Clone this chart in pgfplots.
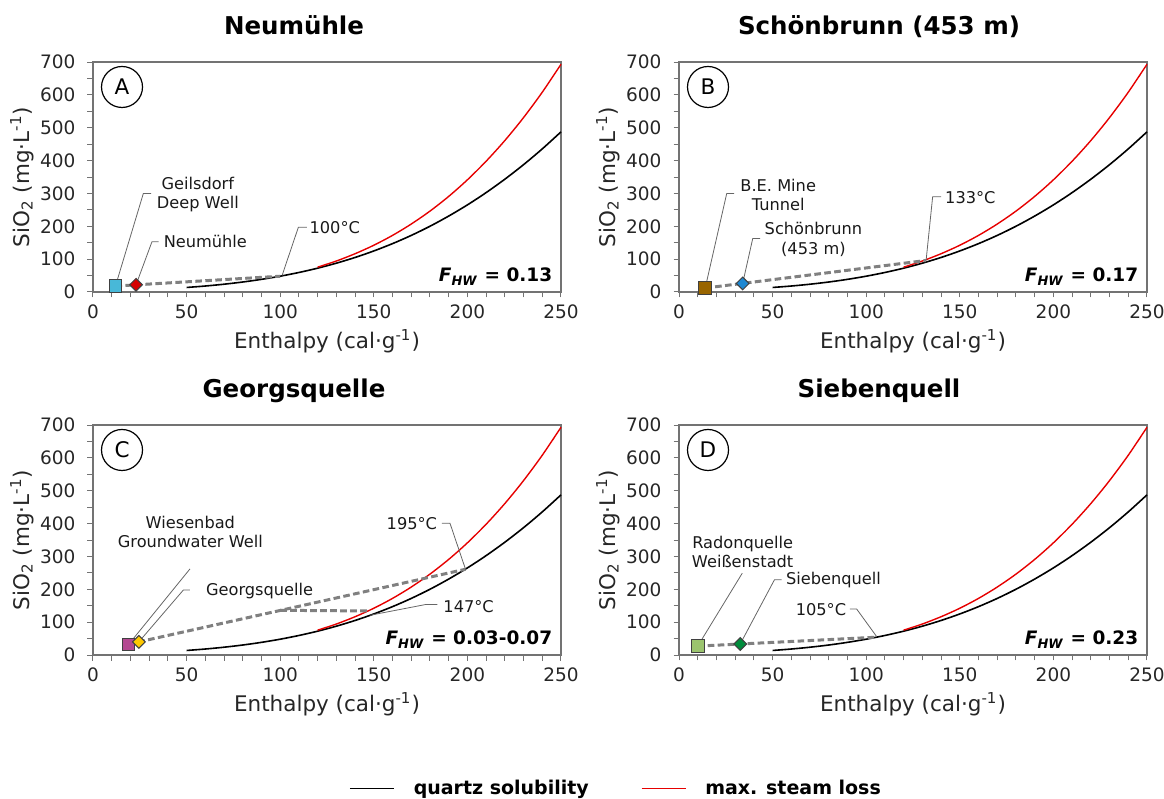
\documentclass[border=0pt]{standalone}
\usepackage{pgfplots}
\pgfplotsset{compat=1.18}
\usepackage{pgfplotstable}
\usepackage{fontspec}
\setmainfont{DejaVu Sans}
\definecolor{dashgray}{RGB}{128,128,128}
\definecolor{steamred}{RGB}{230,0,0}
\definecolor{sqA}{RGB}{72,184,216}
\definecolor{dmA}{RGB}{214,0,0}
\definecolor{sqB}{RGB}{153,101,0}
\definecolor{dmB}{RGB}{30,136,210}
\definecolor{sqC}{RGB}{180,72,145}
\definecolor{dmC}{RGB}{255,200,0}
\definecolor{sqD}{RGB}{155,196,110}
\definecolor{dmD}{RGB}{0,140,60}

\pgfplotstableread{
h s
50 13.8
60 18.2
70 23.7
80 30.4
90 38.5
100 48.1
110 59.4
120 72.5
130 87.7
140 105.1
150 124.9
160 147.2
170 172.2
180 200.1
190 231.1
200 265.1
210 302.5
220 343.3
230 387.6
240 435.6
250 487.4
}\quartz
\pgfplotstableread{
h s
120 75.6
130 94.3
140 116.5
150 142.3
160 172.3
170 206.8
180 246.2
190 290.9
200 341.4
210 398.0
220 461.0
230 530.9
240 608.1
250 693.0
}\steam

\pgfplotsset{
 panel/.style={
  scale only axis, width=234pt, height=115pt,
  xmin=0, xmax=250, ymin=0, ymax=700,
  xtick={0,50,...,250}, ytick={0,100,...,700},
  minor x tick num=4, minor y tick num=1,
  tick align=outside, tick pos=left,
  axis line style={black!55, line width=0.6pt},
  every tick/.style={black!55, line width=0.5pt},
  major tick length=2.75pt, minor tick length=2.75pt,
  tick label style={font=\fontsize{9.25}{11}\selectfont, text=black!85},
  yticklabel style={xshift=-2.5pt},
  /pgf/number format/assume math mode=true,
  xlabel={Enthalpy (cal·g\textsuperscript{-1})},
  ylabel={SiO\textsubscript{2} (mg·L\textsuperscript{-1})},
  label style={font=\fontsize{10.75}{12}\selectfont, text=black!85},
  xlabel style={at={(axis description cs:0.5,-0.213)}, anchor=center},
  ylabel style={at={(axis description cs:-0.152,0.5)}, anchor=center},
  clip=false,
 },
 quartzline/.style={black, line width=0.8pt, smooth},
 steamline/.style={steamred, line width=0.7pt, smooth},
 mixline/.style={dashgray, line width=1.5pt, dash pattern=on 3.3pt off 1.7pt, forget plot},
 sqmark/.style={only marks, mark=square*, mark size=3.2pt, mark options={fill=#1, draw=black!75, line width=0.5pt, solid}, forget plot},
 dmmark/.style={only marks, mark=square*, mark size=2.25pt, mark options={fill=#1, draw=black!75, line width=0.5pt, rotate=45, solid}, forget plot},
}
\tikzset{
 leader/.style={black!60, line width=0.4pt},
 note/.style={font=\fontsize{8.1}{9.7}\selectfont, text=black!90, inner sep=0pt},
 fhw/.style={font=\bfseries\fontsize{9.25}{11}\selectfont, anchor=base east, inner sep=0pt},
 letter/.style={circle, draw=black, line width=0.6pt, minimum size=20.5pt, inner sep=0pt, font=\fontsize{10.75}{11}\selectfont},
 ptitle/.style={font=\bfseries\fontsize{12.25}{14}\selectfont, anchor=base},
}

\begin{document}
\begin{tikzpicture}
\path[use as bounding box] (0,0) rectangle (582pt,399.5pt);

% ---------- A ----------
\begin{axis}[panel, at={(46.5pt,253.5pt)}, anchor=south west]
\addplot[quartzline] table[x=h,y=s]{\quartz};
\addplot[steamline] table[x=h,y=s]{\steam};
\addplot[mixline] coordinates {(12,18) (100,48)};
\addplot[sqmark=sqA] coordinates {(12,18)};
\addplot[dmmark=dmA] coordinates {(23,22)};
\draw[leader] (axis cs:12,18) -- (axis cs:26.9,300) -- (axis cs:31,300);
\node[note, align=center] at (axis cs:56,296) {Geilsdorf\\Deep Well};
\draw[leader] (axis cs:23,22) -- (axis cs:31.5,153) -- (axis cs:35,153);
\node[note, anchor=west] at (axis cs:37.6,153) {Neumühle};
\draw[leader] (axis cs:101,50) -- (axis cs:109.7,197) -- (axis cs:114.2,197);
\node[note, anchor=west] at (axis cs:115.5,197) {100°C};
\node[fhw] at (axis cs:245.5,31) {\textit{F}\textsubscript{\textit{HW}} = 0.13};
\node[letter] at (axis cs:15.5,624) {A};
\end{axis}

% ---------- B ----------
\begin{axis}[panel, at={(339.5pt,253.5pt)}, anchor=south west]
\addplot[quartzline] table[x=h,y=s]{\quartz};
\addplot[steamline] table[x=h,y=s]{\steam};
\addplot[mixline] coordinates {(14,12) (132,96)};
\addplot[sqmark=sqB] coordinates {(14,12)};
\addplot[dmmark=dmB] coordinates {(34,26)};
\draw[leader] (axis cs:14,12) -- (axis cs:25.5,300) -- (axis cs:29.4,300);
\node[note, align=center] at (axis cs:53,296) {B.E. Mine\\Tunnel};
\draw[leader] (axis cs:34,26) -- (axis cs:39.4,163) -- (axis cs:43.3,163);
\node[note, align=center] at (axis cs:71.8,159.5) {Schönbrunn\\(453 m)};
\draw[leader] (axis cs:132,96) -- (axis cs:135.5,290) -- (axis cs:140,290);
\node[note, anchor=west] at (axis cs:142,287) {133°C};
\node[fhw] at (axis cs:245.5,31) {\textit{F}\textsubscript{\textit{HW}} = 0.17};
\node[letter] at (axis cs:15.5,624) {B};
\end{axis}

% ---------- C ----------
\begin{axis}[panel, at={(46.5pt,72pt)}, anchor=south west,
  legend style={at={(1.1197,-0.580)}, anchor=center, draw=none, fill=none,
    legend columns=2, font=\bfseries\fontsize{9.5}{11}\selectfont,
    /tikz/every odd column/.append style={column sep=7.5pt},
    /tikz/every even column/.append style={column sep=24pt}},
  legend image code/.code={\draw[#1] plot coordinates {(0pt,0pt) (22pt,0pt)};},
]
\addplot[quartzline] table[x=h,y=s]{\quartz};
\addlegendentry{quartz solubility}
\addplot[steamline] table[x=h,y=s]{\steam};
\addlegendentry{max. steam loss}
\addplot[mixline] coordinates {(19,33) (199,261)};
\addplot[mixline] coordinates {(100,136) (147,134)};
\addplot[sqmark=sqC] coordinates {(19,32)};
\addplot[dmmark=dmC] coordinates {(24.5,40)};
\draw[leader] (axis cs:19,32) -- (axis cs:51.8,262);
\node[note, align=center] at (axis cs:52,374) {Wiesenbad\\Groundwater Well};
\draw[leader] (axis cs:24.5,40) -- (axis cs:48.3,198) -- (axis cs:51.8,198);
\node[note, anchor=west] at (axis cs:60.2,196) {Georgsquelle};
\draw[leader] (axis cs:199,261) -- (axis cs:190.7,401) -- (axis cs:186.3,401);
\node[note, anchor=east] at (axis cs:184,399) {195°C};
\draw[leader] (axis cs:148,121) -- (axis cs:178,154) -- (axis cs:184,154);
\node[note, anchor=west] at (axis cs:187,148) {147°C};
\node[fhw] at (axis cs:245.5,31) {\textit{F}\textsubscript{\textit{HW}} = 0.03-0.07};
\node[letter] at (axis cs:15.5,624) {C};
\end{axis}

% ---------- D ----------
\begin{axis}[panel, at={(339.5pt,72pt)}, anchor=south west]
\addplot[quartzline] table[x=h,y=s]{\quartz};
\addplot[steamline] table[x=h,y=s]{\steam};
\addplot[mixline] coordinates {(10,27) (105,54)};
\addplot[sqmark=sqD] coordinates {(10,27)};
\addplot[dmmark=dmD] coordinates {(32.7,33.5)};
\draw[leader] (axis cs:10,27) -- (axis cs:33.8,249);
\node[note, align=center] at (axis cs:34,314) {Radonquelle\\Weißenstadt};
\draw[leader] (axis cs:32.7,33.5) -- (axis cs:51,229) -- (axis cs:54.8,229);
\node[note, anchor=west] at (axis cs:57,227) {Siebenquell};
\draw[leader] (axis cs:105.6,56) -- (axis cs:94.9,140) -- (axis cs:91.3,140);
\node[note, anchor=east] at (axis cs:89.5,137.5) {105°C};
\node[fhw] at (axis cs:245.5,31) {\textit{F}\textsubscript{\textit{HW}} = 0.23};
\node[letter] at (axis cs:15.5,624) {D};
\end{axis}

\node[ptitle] at (147pt,382.35pt) {Neumühle};
\node[ptitle] at (439.5pt,382.35pt) {Schönbrunn (453 m)};
\node[ptitle] at (147pt,200.85pt) {Georgsquelle};
\node[ptitle] at (439.5pt,200.85pt) {Siebenquell};
\end{tikzpicture}
\end{document}
